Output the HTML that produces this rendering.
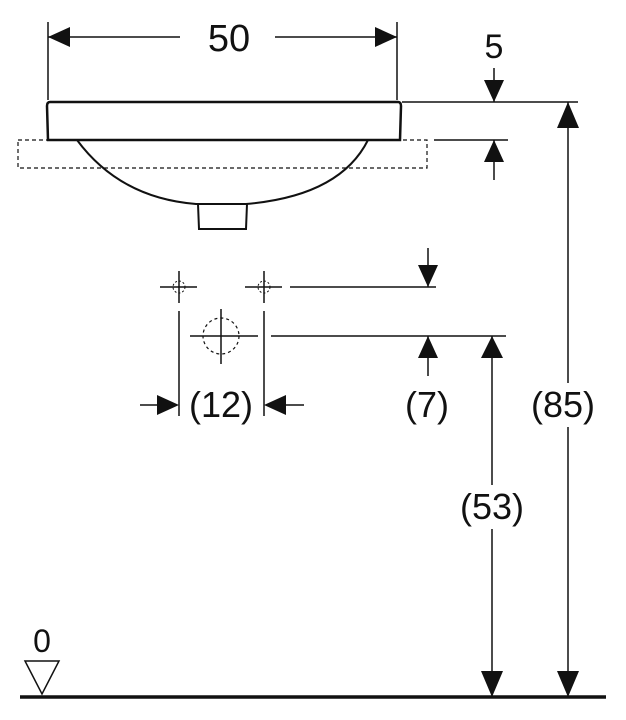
<!DOCTYPE html>
<html><head><meta charset="utf-8"><style>
html,body{margin:0;padding:0;background:#fff;}
svg{display:block}
text{font-family:"Liberation Sans",Arial,sans-serif;fill:#111;}
</style></head><body>
<svg width="626" height="720" viewBox="0 0 626 720" xmlns="http://www.w3.org/2000/svg">
<g stroke="#111" fill="none" stroke-width="1.5">
<line x1="48" y1="22" x2="48" y2="100"/>
<line x1="397" y1="22" x2="397" y2="100"/>
<line x1="48" y1="37" x2="180" y2="37"/>
<line x1="275" y1="37" x2="397" y2="37"/>
<path d="M50 102 L398 102 Q401 102 401 106 L400 140 L48 140 L47 106 Q47 102 50 102 Z" stroke-width="2.5"/>
<rect x="18" y="140" width="409" height="28" stroke-dasharray="4,3" stroke-width="1.2"/>
<path d="M77 140 Q120 198 196 204 L246 204 Q340 196 368 140" stroke-width="2"/>
<path d="M198 204 L199 229 L246 229 L247 204" stroke-width="2"/>
<line x1="402" y1="102" x2="578" y2="102"/>
<line x1="434" y1="140" x2="508" y2="140"/>
<line x1="494" y1="68" x2="494" y2="102"/>
<line x1="494" y1="140" x2="494" y2="180"/>
<line x1="568" y1="102" x2="568" y2="383"/>
<line x1="568" y1="427" x2="568" y2="697"/>
<line x1="492" y1="336" x2="492" y2="485"/>
<line x1="492" y1="529" x2="492" y2="697"/>
<line x1="428" y1="248" x2="428" y2="287"/>
<line x1="290" y1="287" x2="436" y2="287"/>
<line x1="271" y1="336" x2="506" y2="336"/>
<line x1="428" y1="336" x2="428" y2="376"/>
<line x1="160" y1="287" x2="197" y2="287"/><line x1="179" y1="271" x2="179" y2="303"/>
<circle cx="179" cy="287" r="6" stroke-dasharray="2,2" stroke-width="1"/>
<line x1="245" y1="287" x2="282" y2="287"/><line x1="264" y1="271" x2="264" y2="303"/>
<circle cx="264" cy="287" r="6" stroke-dasharray="2,2" stroke-width="1"/>
<line x1="190" y1="336" x2="258" y2="336"/><line x1="221" y1="309" x2="221" y2="364"/>
<circle cx="221" cy="336" r="18" stroke-dasharray="3,3" stroke-width="1.2"/>
<line x1="179" y1="311" x2="179" y2="416"/>
<line x1="264" y1="311" x2="264" y2="416"/>
<line x1="140" y1="405" x2="160" y2="405"/>
<line x1="285" y1="405" x2="304" y2="405"/>
<line x1="20" y1="697" x2="606" y2="697" stroke-width="3.5"/>
<path d="M25 661 L59 661 L42 694 Z" stroke-width="1.5"/>
</g>
<g fill="#111">
<path d="M48 37 L70 27 L70 47 Z"/>
<path d="M397 37 L375 27 L375 47 Z"/>
<path d="M494 102 L484 80 L504 80 Z"/>
<path d="M494 140 L484 162 L504 162 Z"/>
<path d="M568 102 L557 128 L579 128 Z"/>
<path d="M568 697 L557 671 L579 671 Z"/>
<path d="M492 336 L481 358 L503 358 Z"/>
<path d="M492 697 L481 671 L503 671 Z"/>
<path d="M428 287 L418 265 L438 265 Z"/>
<path d="M428 336 L418 358 L438 358 Z"/>
<path d="M179 405 L157 395 L157 415 Z"/>
<path d="M264 405 L286 395 L286 415 Z"/>
</g>
<g font-size="36" text-anchor="middle">
<text x="229" y="51" font-size="38">50</text>
<text x="494" y="58" font-size="34">5</text>
<text x="221" y="417">(12)</text>
<text x="427" y="417">(7)</text>
<text x="563" y="417">(85)</text>
<text x="492" y="519">(53)</text>
<text x="42" y="652" font-size="32">0</text>
</g>
</svg>
</body></html>
